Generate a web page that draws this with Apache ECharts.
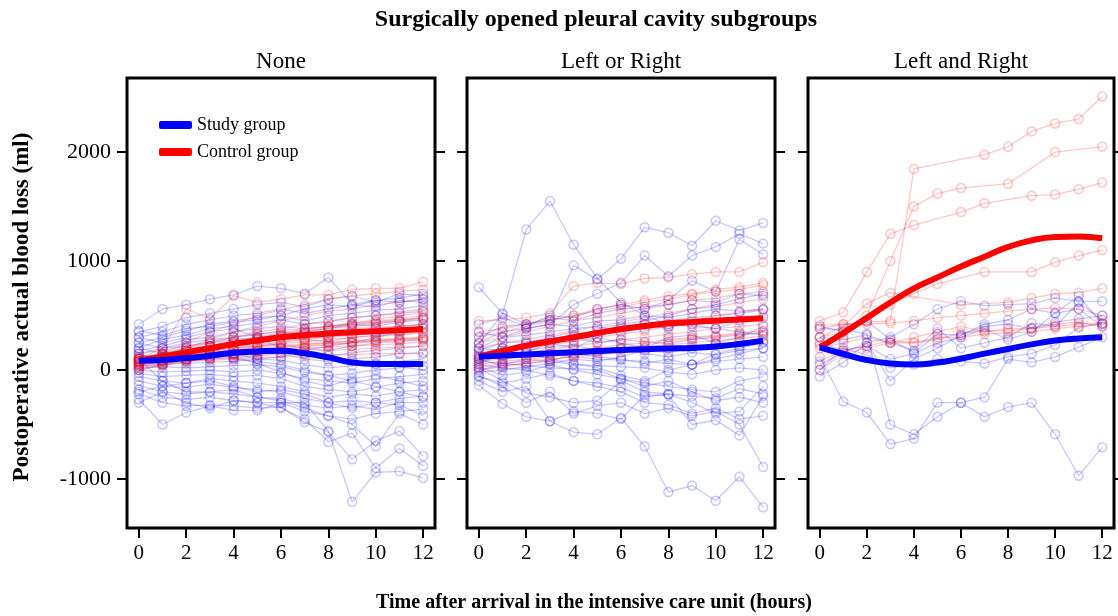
<!DOCTYPE html>
<html>
<head>
<meta charset="utf-8">
<script src="https://cdn.jsdelivr.net/npm/echarts@6/dist/echarts.min.js"></script>
<style>
html,body{margin:0;padding:0;background:#fff;}
#chart{width:1118px;height:616px;}
</style>
</head>
<body>
<div id="chart"></div>
<script>
// ---------- DATA ----------
const HOURS = [0,1,2,3,4,5,6,7,8,9,10,11,12];
const X_TICKS = [0,2,4,6,8,10,12];
const Y_TICKS = [-1000,0,1000,2000];
const PANEL_TITLES = ['None','Left or Right','Left and Right'];
const MAIN_TITLE = 'Surgically opened pleural cavity subgroups';
const X_TITLE = 'Time after arrival in the intensive care unit (hours)';
const Y_TITLE = 'Postoperative actual blood loss (ml)';
const LEGEND_NAMES = ['Study group','Control group'];

// Group means (thick lines)
const NONE_STUDY_MEAN   = [86, 92, 110, 131, 159, 171, 177, 153, 116, 70, 55, 55, 55];
const NONE_CONTROL_MEAN = [86, 124, 162, 200, 238, 270, 300, 320, 336, 346, 355, 366, 376];
const LR_STUDY_MEAN     = [122, 132, 142, 153, 163, 174, 184, 191, 197, 202, 215, 239, 270];
const LR_CONTROL_MEAN   = [122, 173, 224, 262, 300, 339, 377, 403, 429, 441, 453, 464, 474];
const LAR_STUDY_MEAN    = [208, 147, 92, 60, 50, 68, 105, 150, 193, 235, 270, 290, 300];
const LAR_CONTROL_MEAN  = [208, 340, 480, 620, 750, 850, 950, 1040, 1130, 1190, 1220, 1225, 1210];

// Individual patients, panel "None"
const NONE_STUDY = [
  [420, 560, 600, 650, 690, 770, 750, 700, 850, 600, 640, 620, 650],
  [350, 400, 480, 520, 560, 600, 620, 580, 650, 680, 620, 700, 680],
  [300, 350, 420, 460, 500, 520, 560, 520, 560, 600, 580, 640, 620],
  [250, 300, 360, 420, 450, 480, 500, 450, 500, 520, 550, 560, 590],
  [200, 280, 320, 380, 400, 430, 460, 420, 440, 480, 500, 520, 540],
  [180, 220, 280, 300, 350, 380, 400, 380, 400, 420, 440, 460, 480],
  [150, 200, 250, 280, 300, 330, 350, 330, 300, 360, 380, 400, 420],
  [120, 150, 200, 220, 260, 280, 300, 280, 260, 300, 320, 330, 350],
  [100, 120, 150, 180, 200, 220, 240, 200, 180, 220, 250, 260, 280],
  [80, 100, 120, 140, 150, 180, 200, 150, 130, 160, 180, 200, 220],
  [60, 80, 90, 100, 110, 130, 150, 100, 80, 100, 120, 150, 160],
  [40, 50, 60, 70, 80, 100, 90, 50, 20, 40, 60, 80, 100],
  [20, 30, 20, 30, 40, 50, 30, -20, -50, -30, 0, 20, 40],
  [0, -20, -10, 0, -20, 0, -30, -80, -100, -120, -80, -60, -40],
  [-30, -60, -50, -40, -60, -50, -80, -150, -180, -200, -160, -120, -100],
  [-60, -100, -120, -80, -100, -120, -150, -200, -250, -220, -240, -200, -180],
  [-100, -150, -160, -130, -160, -180, -200, -260, -300, -280, -300, -260, -240],
  [-140, -200, -220, -200, -220, -250, -260, -320, -350, -330, -360, -300, -300],
  [-180, -250, -270, -250, -280, -300, -300, -380, -420, -450, -400, -380, -360],
  [-220, -300, -330, -320, -330, -350, -340, -480, -570, -820, -650, -560, -790],
  [-270, -500, -390, -330, -370, -370, -300, -300, -560, -1210, -940, -930, -990],
  [-300, -200, -300, -350, -280, -300, -350, -450, -660, -580, -900, -720, -880],
  [100, -100, -200, -200, -180, -250, -280, -350, -420, -500, -700, -400, -500],
  [200, 150, 180, 220, 100, 80, 50, 0, -50, -100, -150, -200, -250],
  [300, 250, 300, 350, 380, 300, 200, 150, 100, 80, 50, 30, 0],
  [250, 200, 220, 250, 280, 300, 320, 350, 380, 420, 400, 440, 460],
  [360, 320, 380, 400, 440, 460, 500, 560, 600, 580, 640, 660, 700],
  [150, 80, 100, 150, 120, 60, -20, -100, -150, -80, -50, -100, -150],
  [0, 50, 100, 120, 150, 100, 120, 180, 220, 250, 300, 350, 380],
  [-200, -150, -120, -100, -150, -200, -180, -220, -300, -350, -300, -320, -420]
];
const NONE_CONTROL = [
  [100, 200, 560, 470, 680, 620, 650, 690, 690, 740, 750, 750, 810],
  [80, 150, 250, 350, 420, 500, 550, 600, 650, 680, 700, 720, 740],
  [60, 120, 200, 280, 350, 400, 450, 500, 540, 560, 600, 620, 650],
  [100, 150, 200, 250, 300, 350, 380, 420, 450, 480, 500, 530, 560],
  [50, 100, 150, 200, 240, 280, 320, 350, 380, 400, 420, 450, 480],
  [120, 140, 180, 220, 250, 280, 300, 330, 360, 380, 390, 400, 420],
  [80, 110, 140, 170, 200, 230, 260, 290, 310, 330, 350, 360, 380],
  [40, 80, 120, 150, 180, 210, 240, 260, 280, 300, 310, 320, 340],
  [100, 120, 140, 160, 180, 200, 220, 240, 250, 270, 280, 290, 300],
  [60, 80, 100, 120, 140, 160, 180, 200, 210, 220, 230, 240, 260],
  [20, 50, 80, 100, 120, 140, 160, 170, 180, 190, 200, 210, 220],
  [80, 90, 110, 130, 150, 170, 190, 210, 230, 250, 270, 280, 300],
  [150, 180, 220, 260, 300, 330, 360, 380, 400, 430, 450, 470, 500],
  [0, 40, 80, 110, 140, 170, 200, 220, 240, 250, 260, 270, 280],
  [110, 130, 170, 210, 250, 290, 330, 360, 390, 410, 430, 450, 470],
  [70, 100, 130, 160, 190, 220, 250, 280, 300, 320, 340, 360, 400],
  [90, 130, 170, 220, 270, 300, 340, 370, 400, 430, 460, 500, 530],
  [30, 60, 90, 120, 150, 180, 210, 230, 250, 260, 270, 280, 290],
  [50, 60, 80, 90, 100, 110, 120, 130, 140, 140, 150, 150, 150]
];

// Individual patients, panel "Left or Right"
const LR_STUDY = [
  [240, 510, 1290, 1550, 1150, 840, 620, 500, 420, 400, 380, 350, 320],
  [760, 520, 420, 460, 960, 830, 1020, 1310, 1260, 1140, 1370, 1280, 1350],
  [350, 300, 380, 420, 600, 700, 800, 1050, 860, 1050, 1130, 1250, 1160],
  [420, 480, 400, 500, 480, 560, 600, 560, 640, 820, 720, 1200, 1060],
  [-140, -310, -430, -470, -570, -590, -440, -700, -1120, -1060, -1200, -980, -1260],
  [-50, -150, -300, -200, -400, -330, -300, -400, -350, -420, -380, -500, -890],
  [-100, -200, -150, -470, -380, -400, -450, -230, -230, -500, -460, -600, -240],
  [20, -100, -210, -250, -300, -280, -100, -200, -220, -240, -260, -170, -220],
  [50, 20, 0, -50, -100, -120, -160, -250, -220, -300, -400, -380, -150],
  [80, 60, 40, 20, 10, 0, -80, -120, -150, -180, -200, -100, -60],
  [100, 40, 60, 80, 50, 40, 30, 20, -20, -40, 0, 20, 0],
  [130, 100, 120, 150, 120, 100, 90, 80, 60, 50, 80, 100, 120],
  [150, 200, 180, 210, 230, 180, 200, 150, 120, 160, 140, 180, 200],
  [180, 250, 260, 280, 300, 250, 280, 260, 240, 280, 300, 320, 340],
  [200, 300, 320, 350, 380, 400, 350, 380, 400, 420, 380, 450, 480],
  [250, 350, 380, 420, 400, 450, 460, 500, 480, 520, 560, 540, 560],
  [300, 400, 420, 480, 450, 520, 560, 580, 600, 640, 620, 700, 680],
  [60, 150, 200, 250, 200, 300, 250, 200, 300, 320, 250, 300, 400],
  [0, 50, 100, 80, 150, 120, 100, 60, 100, 50, 150, 200, 250],
  [30, -50, -20, 50, 0, -40, -80, -150, -100, -200, -280, -250, -300],
  [100, 130, 160, 250, 270, 380, 420, 450, 500, 560, 600, 650, 700],
  [-20, 0, 30, 60, 100, 80, 120, 180, 160, 200, 240, 220, 260],
  [-60, -120, -80, -30, -100, -150, -200, -300, -320, -400, -350, -450, -420],
  [200, 180, 150, 100, 60, 20, -50, -100, 0, 50, 100, 150, 200],
  [120, 200, 250, 300, 350, 300, 400, 420, 380, 450, 500, 520, 550]
];
const LR_CONTROL = [
  [450, 460, 480, 520, 770, 800, 790, 840, 850, 880, 900, 900, 990],
  [300, 350, 400, 450, 500, 560, 600, 640, 680, 700, 740, 760, 800],
  [250, 300, 350, 400, 450, 480, 520, 560, 600, 640, 660, 700, 720],
  [200, 250, 280, 320, 360, 400, 440, 480, 520, 560, 580, 620, 650],
  [150, 200, 240, 280, 320, 350, 380, 420, 450, 480, 500, 530, 560],
  [120, 160, 200, 230, 260, 300, 330, 360, 400, 420, 440, 460, 500],
  [100, 130, 160, 190, 220, 250, 280, 300, 330, 350, 380, 400, 420],
  [80, 100, 130, 150, 180, 200, 230, 250, 280, 300, 320, 340, 360],
  [50, 80, 100, 120, 150, 170, 190, 210, 230, 250, 270, 290, 310],
  [20, 60, 80, 100, 120, 140, 160, 180, 200, 220, 240, 260, 280],
  [350, 380, 420, 460, 500, 540, 580, 620, 650, 690, 720, 740, 780],
  [0, 30, 60, 90, 130, 160, 200, 230, 260, 290, 310, 330, 350]
];

// Individual patients, panel "Left and Right"
const LAR_STUDY = [
  [120, -290, -390, -680, -630, -300, -300, -430, -340, -300, -590, -970, -710],
  [380, 370, 330, -500, -590, -430, -300, -250, 100, 70, 120, 210, 300],
  [-60, 70, 250, 300, 420, 560, 630, 590, 600, 610, 660, 630, 630],
  [300, 280, 320, 250, 180, 380, 200, 250, 300, 430, 400, 620, 460],
  [250, 180, 220, 100, 150, 250, 300, 380, 280, 350, 520, 560, 400],
  [0, 200, 140, 20, 50, 100, 80, 60, 120, 150, 230, 390, 430],
  [50, 160, 250, -100, 100, 200, 320, 400, 420, 380, 440, 470, 500],
  [400, 350, 450, 280, 160, 330, 320, 420, 460, 560, 520, 680, 420]
];
const LAR_CONTROL = [
  [410, 420, 440, 450, 1845, null, null, 1976, 2049, 2190, 2263, 2303, 2511],
  [450, 530, 900, 1250, 1330, null, 1450, 1530, null, 1600, 1610, 1660, 1720],
  [230, 300, 500, 1000, 1500, 1620, 1670, null, 1710, null, 2000, null, 2050],
  [300, 350, 450, 600, 700, 790, null, 900, null, 900, 990, 1050, 1100],
  [300, 400, 610, 710, null, null, 600, null, 620, 660, 700, 710, 750],
  [380, 420, 420, 430, 450, 480, 500, 520, 540, 560, 570, 560, 500],
  [200, 250, 300, 250, 300, 350, 400, 350, 380, 380, 400, 420, 430],
  [0, 150, 200, 250, 250, 300, 300, 330, 340, 350, 380, 400, 420],
  [80, 180, 220, 270, 250, 280, 340, 360, 360, 380, 420, 440, 400]
];

// ---------- CHART ----------
const FONT = '"Liberation Serif","Times New Roman",serif';
const BLUE = '#0000ff', RED = '#ff0000';
const BLUE_A = 'rgba(0,0,255,0.22)', RED_A = 'rgba(255,0,0,0.22)';

const PANELS = [
  {study: NONE_STUDY, control: NONE_CONTROL, sm: NONE_STUDY_MEAN, cm: NONE_CONTROL_MEAN},
  {study: LR_STUDY, control: LR_CONTROL, sm: LR_STUDY_MEAN, cm: LR_CONTROL_MEAN},
  {study: LAR_STUDY, control: LAR_CONTROL, sm: LAR_STUDY_MEAN, cm: LAR_CONTROL_MEAN}
];
const GRID_LEFT = [127, 467, 808];
const GRID_W = [308, 308, 306];
const GRID_TOP = 78, GRID_H = 450;

const toData = arr => HOURS.map((h, i) => [h, arr[i] === null ? '-' : arr[i]]);

const grids = [], xAxes = [], yAxes = [], series = [];
PANELS.forEach((p, g) => {
  grids.push({left: GRID_LEFT[g], top: GRID_TOP, width: GRID_W[g], height: GRID_H,
    show: true, borderColor: '#000', borderWidth: 3, backgroundColor: 'transparent'});
  xAxes.push({type: 'value', gridIndex: g, min: -0.5, max: 12.5, position: 'bottom',
    axisLine: {show: false, onZero: false}, splitLine: {show: false},
    axisTick: {show: true, customValues: X_TICKS, length: 10, lineStyle: {color: '#000', width: 2}},
    axisLabel: {show: true, customValues: X_TICKS, color: '#000', fontSize: 21, fontFamily: FONT, margin: 15}});
  ['left', 'right'].forEach(pos => {
    yAxes.push({type: 'value', gridIndex: g, position: pos, min: -1450, max: 2680,
      axisLine: {show: false, onZero: false}, splitLine: {show: false},
      axisTick: {show: true, customValues: Y_TICKS, length: 10, lineStyle: {color: '#000', width: 2}},
      axisLabel: {show: g === 0 && pos === 'left', customValues: Y_TICKS, color: '#000',
        fontSize: 22, fontFamily: FONT, margin: 16, formatter: v => String(v)}});
  });
  const indiv = (rows, col) => rows.forEach(r => series.push({
    type: 'line', xAxisIndex: g, yAxisIndex: g * 2, data: toData(r), connectNulls: true,
    symbol: 'circle', symbolSize: 9, showSymbol: true, silent: true, z: 2,
    lineStyle: {color: col, width: 1.3},
    itemStyle: {color: 'rgba(255,255,255,0)', borderColor: col, borderWidth: 1.5}
  }));
  indiv(p.study, BLUE_A);
  indiv(p.control, RED_A);
  series.push({type: 'line', name: LEGEND_NAMES[1], xAxisIndex: g, yAxisIndex: g * 2,
    data: toData(p.cm), smooth: 0.5, showSymbol: false, z: 5,
    lineStyle: {color: RED, width: 6}, itemStyle: {color: RED}});
  series.push({type: 'line', name: LEGEND_NAMES[0], xAxisIndex: g, yAxisIndex: g * 2,
    data: toData(p.sm), smooth: 0.5, showSymbol: false, z: 6,
    lineStyle: {color: BLUE, width: 6}, itemStyle: {color: BLUE}});
});

const graphics = [
  {type: 'text', x: 596, y: 20, style: {text: MAIN_TITLE, font: 'bold 24px ' + FONT, fill: '#000', textAlign: 'center', textVerticalAlign: 'middle'}},
  {type: 'text', x: 594, y: 603, style: {text: X_TITLE, font: 'bold 20px ' + FONT, fill: '#000', textAlign: 'center', textVerticalAlign: 'middle'}},
  {type: 'text', x: 22, y: 307, rotation: Math.PI / 2, style: {text: Y_TITLE, font: 'bold 23px ' + FONT, fill: '#000', textAlign: 'center', textVerticalAlign: 'middle'}}
];
PANEL_TITLES.forEach((t, g) => graphics.push({type: 'text', x: GRID_LEFT[g] + GRID_W[g] / 2, y: 62,
  style: {text: t, font: '23px ' + FONT, fill: '#000', textAlign: 'center', textVerticalAlign: 'middle'}}));

const chart = echarts.init(document.getElementById('chart'), null, {renderer: 'canvas'});
chart.setOption({
  animation: false,
  backgroundColor: '#fff',
  grid: grids, xAxis: xAxes, yAxis: yAxes, series: series,
  legend: {data: LEGEND_NAMES, orient: 'vertical', left: 154, top: 111, itemGap: 9,
    icon: 'roundRect', itemWidth: 33, itemHeight: 8,
    textStyle: {fontSize: 18, fontFamily: FONT, color: '#000'}, selectedMode: false},
  graphic: graphics
});
</script>
</body>
</html>
